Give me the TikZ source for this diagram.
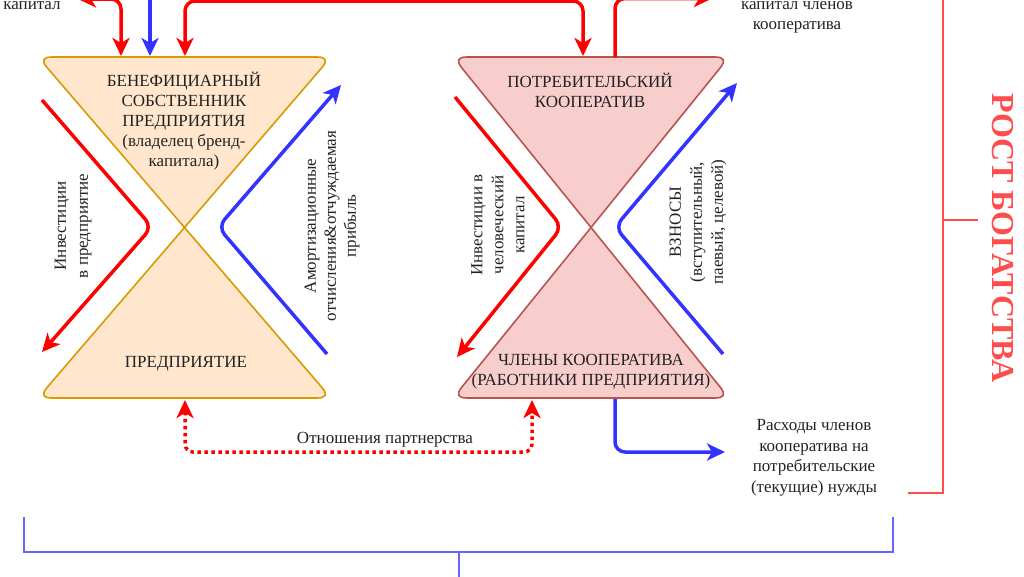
\documentclass[tikz,border=0pt]{standalone}
\usepackage{fontspec}
\setmainfont{Liberation Serif}
\usetikzlibrary{arrows.meta,calc}
\definecolor{peachfill}{HTML}{FFE6CC}
\definecolor{peachline}{HTML}{D79B00}
\definecolor{rosefill}{HTML}{F8CECC}
\definecolor{roseline}{HTML}{B85450}
\definecolor{arrred}{HTML}{FF0000}
\definecolor{arrblue}{HTML}{3333FF}
\definecolor{brred}{HTML}{FF4D4D}
\definecolor{brblue}{HTML}{6666FF}
\definecolor{txt}{HTML}{222222}
% rounded corner at #2 between #1 and #3
\newcommand{\rcorner}[3]{($(#2)!14pt!(#1)$) .. controls ($($(#2)!14pt!(#1)$)!0.66!(#2)$) and ($($(#2)!14pt!(#3)$)!0.66!(#2)$) .. ($(#2)!14pt!(#3)$)}
\begin{document}
\begin{tikzpicture}[x=1pt,y=-1pt,
  lbl/.style={font=\fontsize{17}{20}\selectfont, text=txt, align=center, inner sep=1pt},
  flow/.style={line width=3.5pt, rounded corners=10pt},
  tipend/.style={-{Stealth[length=18pt,width=17pt,inset=5pt]}},
  tipboth/.style={{Stealth[length=18pt,width=17pt,inset=5pt]}-{Stealth[length=18pt,width=17pt,inset=5pt]}},
  bracket/.style={line width=2.5pt},
  glass/.style={line width=1.6pt, line join=miter}
]
\useasboundingbox (0,0) rectangle (1024,576);
\clip (0,0) rectangle (1024,576);

% corner points of the hourglasses
\coordinate (LTL) at (38,57);  \coordinate (LTR) at (331,57);
\coordinate (LC)  at (184.5,227.5);
\coordinate (LBL) at (38,398); \coordinate (LBR) at (331,398);
\coordinate (RTL) at (453,57); \coordinate (RTR) at (729,57);
\coordinate (RC)  at (591,227.5);
\coordinate (RBL) at (453,398); \coordinate (RBR) at (729,398);

% left hourglass
\filldraw[glass, fill=peachfill, draw=peachline]
  (LC) -- \rcorner{LC}{LTL}{LTR} -- \rcorner{LTL}{LTR}{LC} -- cycle;
\filldraw[glass, fill=peachfill, draw=peachline]
  (LC) -- \rcorner{LC}{LBL}{LBR} -- \rcorner{LBL}{LBR}{LC} -- cycle;
% right hourglass
\filldraw[glass, fill=rosefill, draw=roseline]
  (RC) -- \rcorner{RC}{RTL}{RTR} -- \rcorner{RTL}{RTR}{RC} -- cycle;
\filldraw[glass, fill=rosefill, draw=roseline]
  (RC) -- \rcorner{RC}{RBL}{RBR} -- \rcorner{RBL}{RBR}{RC} -- cycle;

% texts inside
\node[lbl] (owner) at (184,121) {БЕНЕФИЦИАРНЫЙ\\СОБСТВЕННИК\\ПРЕДПРИЯТИЯ\\(владелец бренд-\\капитала)};
\node[lbl] (firm) at (186,364) {ПРЕДПРИЯТИЕ};
\node[lbl] (coop) at (590,90) {ПОТРЕБИТЕЛЬСКИЙ\\КООПЕРАТИВ};
\node[lbl] (members) at (591,372) {ЧЛЕНЫ КООПЕРАТИВА\\(РАБОТНИКИ ПРЕДПРИЯТИЯ)};

% rotated labels
\node[lbl, rotate=90, font=\fontsize{17}{22}\selectfont] (invest) at (73,226) {Инвестиции\\в предприятие};
\node[lbl, rotate=90] (amort) at (332,226) {Амортизационные\\отчисления\&отчуждаемая\\прибыль};
\node[lbl, rotate=90, font=\fontsize{17}{21}\selectfont] (human) at (498,225) {Инвестиции в\\человеческий\\капитал};
\node[lbl, rotate=90, font=\fontsize{17}{21}\selectfont] (fees) at (698,222) {ВЗНОСЫ\\(вступительный,\\паевый, целевой)};

% other labels
\node[lbl] (capl) at (32,6) {капитал};
\node[lbl] (capr) at (797,17) {капитал членов\\кооператива};
\node[lbl, font=\fontsize{17}{20.5}\selectfont] (spend) at (814,458) {Расходы членов\\кооператива на\\потребительские\\(текущие) нужды};
\node[text=brred, font=\fontsize{32}{32}\selectfont\bfseries, rotate=-90, inner sep=0pt] (growth) at (1003,238) {РОСТ БОГАТСТВА};

% diagonal flows, left
\coordinate (a1s) at (42,100); \coordinate (a1m) at (152,227); \coordinate (a1e) at (42,352);
\draw[flow, tipend, draw=arrred] (a1s) -- (a1m) -- (a1e);
\coordinate (a2s) at (327,354); \coordinate (a2m) at (218,227); \coordinate (a2e) at (341,85);
\draw[flow, tipend, draw=arrblue] (a2s) -- (a2m) -- (a2e);
% diagonal flows, right
\coordinate (a3s) at (455,97); \coordinate (a3m) at (562,227); \coordinate (a3e) at (457,357);
\draw[flow, tipend, draw=arrred] (a3s) -- (a3m) -- (a3e);
\coordinate (a4s) at (723,354); \coordinate (a4m) at (615,227); \coordinate (a4e) at (737,83);
\draw[flow, tipend, draw=arrblue] (a4s) -- (a4m) -- (a4e);

% top flows
\coordinate (t1a) at (185,56); \coordinate (t1b) at (185,1); \coordinate (t1c) at (583,1); \coordinate (t1d) at (583,56);
\draw[flow, tipboth, draw=arrred] (t1a) -- (t1b) -- (t1c) -- (t1d);
\coordinate (t2a) at (150,-10); \coordinate (t2b) at (150,56);
\draw[flow, tipend, draw=arrblue] (t2a) -- (t2b);
\coordinate (t3a) at (78,-1); \coordinate (t3b) at (121,-1); \coordinate (t3c) at (121,56);
\draw[flow, tipboth, draw=arrred] (t3a) -- (t3b) -- (t3c);
\coordinate (t4a) at (615,57); \coordinate (t4b) at (615,-1.5); \coordinate (t4c) at (712,-1.5);
\draw[flow, tipend, draw=arrred] (t4a) -- (t4b) -- (t4c);

% partnership
\coordinate (p1) at (185,452); \coordinate (p2) at (532,452);
\coordinate (p0) at (185,400); \coordinate (p3) at (532,400);
\draw[line width=3.5pt, rounded corners=8pt, dash pattern=on 3.5pt off 3.5pt, draw=arrred, tipboth] (p0) -- (p1) -- (p2) -- (p3);
\node[lbl, fill=white, inner sep=2pt] (partner) at (385,440) {Отношения партнерства};

% spending
\coordinate (s0) at (615,399); \coordinate (s1) at (615,452); \coordinate (s2) at (725,452);
\draw[flow, tipend, draw=arrblue] (s0) -- (s1) -- (s2);

% brackets
\coordinate (r0) at (908,493); \coordinate (r1) at (943,493); \coordinate (r2) at (943,-5);
\coordinate (rm) at (943,220); \coordinate (rt) at (978,220);
\draw[bracket, draw=brred] (r0) -- (r1) -- (r2);
\draw[bracket, draw=brred] (rm) -- (rt);
\coordinate (b0) at (24,517); \coordinate (b1) at (24,552); \coordinate (b2) at (893,552); \coordinate (b3) at (893,517);
\coordinate (bm) at (459,552); \coordinate (bt) at (459,580);
\draw[bracket, draw=brblue] (b0) -- (b1) -- (b2) -- (b3);
\draw[bracket, draw=brblue] (bm) -- (bt);
\end{tikzpicture}
\end{document}
